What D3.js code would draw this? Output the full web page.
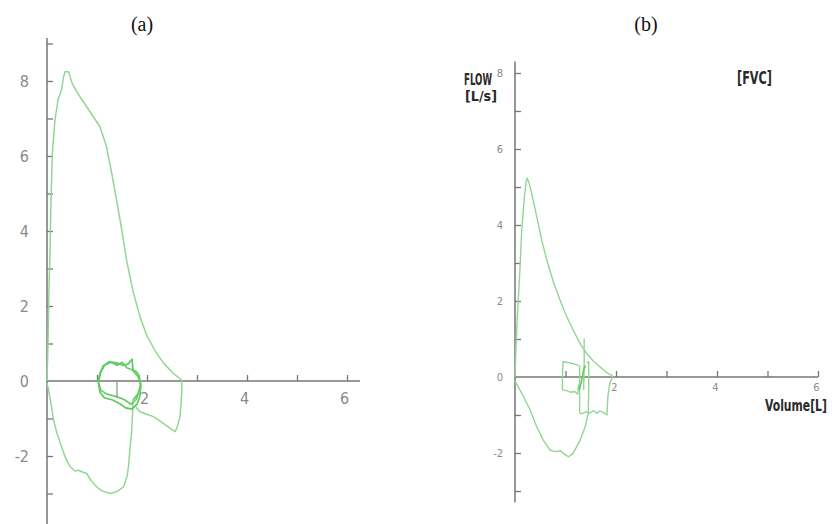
<!DOCTYPE html>
<html>
<head>
<meta charset="utf-8">
<script src="https://cdn.jsdelivr.net/npm/d3@7"></script>
<style>
  body { margin:0; background:#fff; }
  svg { display:block; }
</style>
</head>
<body>
<svg id="chart" width="832" height="524"></svg>
<script>
// panel (a) flow-volume loop
var aExpiration = [[0,0],[0.02,1],[0.04,2.5],[0.06,3.4],[0.08,4.8],[0.11,6.16],[0.16,6.96],[0.22,7.5],[0.29,7.76],[0.33,8.1],[0.36,8.25],[0.43,8.25],[0.5,7.95],[0.58,7.75],[0.66,7.58],[0.85,7.2],[1.06,6.78],[1.19,6.25],[1.3,5.5],[1.39,4.83],[1.5,4.0],[1.59,3.23],[1.72,2.4],[1.86,1.71],[2.0,1.2],[2.19,0.74],[2.35,0.45],[2.53,0.2],[2.69,0.03],[2.7,-0.2],[2.68,-0.6],[2.66,-0.95],[2.6,-1.25],[2.56,-1.35],[2.45,-1.25],[2.33,-1.13],[2.13,-0.95],[1.98,-0.88],[1.86,-0.82],[1.78,-0.7]];
var aInspiration = [[0,-0.05],[0.03,-0.24],[0.08,-0.6],[0.13,-1.04],[0.2,-1.4],[0.29,-1.75],[0.37,-2.05],[0.46,-2.28],[0.56,-2.4],[0.64,-2.38],[0.69,-2.42],[0.79,-2.46],[0.88,-2.65],[0.99,-2.82],[1.1,-2.93],[1.26,-3.0],[1.4,-2.95],[1.53,-2.82],[1.6,-2.55],[1.63,-2.28],[1.66,-1.8],[1.69,-1.39],[1.71,-0.9],[1.72,-0.5]];
var aTidal1 = [[1.72,-0.5],[1.82,-0.35],[1.87,-0.1],[1.84,0.15],[1.78,0.25],[1.72,0.3],[1.7,0.58],[1.62,0.45],[1.52,0.42],[1.4,0.48],[1.28,0.5],[1.15,0.42],[1.07,0.22],[1.03,-0.05],[1.06,-0.3],[1.15,-0.45],[1.3,-0.5],[1.45,-0.6],[1.58,-0.72],[1.7,-0.75],[1.8,-0.62],[1.86,-0.4]];
var aTidal2 = [[1.86,-0.4],[1.88,-0.1],[1.82,0.12],[1.7,0.3],[1.6,0.35],[1.5,0.5],[1.4,0.42],[1.25,0.52],[1.12,0.4],[1.06,0.22],[1.02,0],[1.08,-0.25],[1.2,-0.35],[1.4,-0.42],[1.55,-0.5],[1.68,-0.62],[1.78,-0.5],[1.84,-0.3]];
var aTidalStem = [[1.4,0],[1.4,-0.45]];

// panel (b) FVC loop
var bExpiration = [[0,0],[0.02,0.8],[0.05,1.7],[0.08,2.4],[0.1,2.9],[0.13,3.78],[0.18,4.66],[0.22,5.14],[0.24,5.23],[0.28,5.1],[0.33,4.83],[0.43,4.22],[0.53,3.6],[0.63,3.08],[0.76,2.5],[0.89,2.03],[1.02,1.6],[1.15,1.24],[1.28,0.9],[1.42,0.62],[1.55,0.42],[1.68,0.27],[1.8,0.13],[1.91,0.05],[1.93,0]];
var bCloseRight = [[1.93,0],[1.88,-0.15],[1.84,-0.5],[1.82,-1.0],[1.75,-0.93],[1.68,-0.9],[1.62,-0.95],[1.55,-0.88],[1.48,-0.95],[1.4,-0.92],[1.32,-0.97],[1.28,-0.95],[1.28,-0.5],[1.28,0.3]];
var bInspiration = [[0,-0.1],[0.08,-0.3],[0.17,-0.52],[0.3,-0.87],[0.43,-1.31],[0.56,-1.66],[0.69,-1.92],[0.76,-1.95],[0.83,-1.96],[0.9,-1.94],[0.96,-2.01],[1.06,-2.1],[1.15,-2.01],[1.29,-1.66],[1.39,-1.31],[1.45,-0.96],[1.46,-0.3],[1.46,0.4],[1.42,0.38]];
var bLeftBox = [[1.27,0.3],[1.15,0.35],[1.05,0.38],[0.95,0.4],[0.94,0],[0.94,-0.34],[1.02,-0.36],[1.1,-0.4],[1.18,-0.38],[1.24,-0.45],[1.26,-0.2]];
var bSpike = [[1.37,1.02],[1.37,0.4],[1.36,-0.34]];
var bTidal = [[1.27,-0.35],[1.32,-0.1],[1.36,0.2],[1.4,0.3]];

var aYTicks = [-3,-2,-1,0,1,2,3,4,5,6,7,8,9];
var aXTicks = [1,2,3,4,5,6];
var bYTicks = [-3,-2,-1,0,1,2,3,4,5,6,7,8];
var bXTicks = [1,2,3,4,5,6];

var svg = d3.select("#chart");
var axisColor = "#767676";
var curveColor = "#93d693";
var tidalColor = "#62cc62";

var xA = d3.scaleLinear().domain([0,6]).range([47,347]);
var yA = d3.scaleLinear().domain([0,8]).range([381,81]);
var xB = d3.scaleLinear().domain([0,6]).range([515,818]);
var yB = d3.scaleLinear().domain([0,8]).range([377,73]);

function evenLabel(d){ return (d % 2 == 0) ? d : ""; }

function drawAxes(x, y, yTicks, xTicks, yTop, yBottom, xEnd, fontSize, yPad, xPad, xDx, font){
  var g = svg.append("g");
  g.append("line").attr("x1",x(0)).attr("x2",x(0)).attr("y1",y(yTop)).attr("y2",y(yBottom))
    .style("stroke",axisColor).style("stroke-width",1.5);
  g.append("line").attr("x1",x(0)).attr("x2",x(xEnd)).attr("y1",y(0)).attr("y2",y(0))
    .style("stroke",axisColor).style("stroke-width",1.5);

  var ya = g.append("g").attr("transform","translate(" + x(0) + ",0)")
    .call(d3.axisLeft(y).tickValues(yTicks).tickSizeInner(-6).tickSizeOuter(0).tickPadding(yPad).tickFormat(evenLabel));
  var xa = g.append("g").attr("transform","translate(0," + y(0) + ")")
    .call(d3.axisBottom(x).tickValues(xTicks).tickSizeInner(-6).tickSizeOuter(0).tickPadding(xPad).tickFormat(evenLabel));
  [ya, xa].forEach(function(a){
    a.select(".domain").remove();
    a.selectAll("line").style("stroke",axisColor).style("stroke-width",1.3);
    a.selectAll("text").style("fill","#8a8a8a").style("font-family",font).style("font-size",fontSize + "px");
  });
  ya.selectAll(".tick").filter(function(d){ return d == 0; }).select("line").remove();
  xa.selectAll("text").attr("dx", xDx);
}

function drawCurve(x, y, data, color, width){
  var line = d3.line().x(function(d){ return x(d[0]); }).y(function(d){ return y(d[1]); }).curve(d3.curveLinear);
  svg.append("path").attr("d", line(data)).style("fill","none").style("stroke",color)
    .style("stroke-width",width).style("stroke-linejoin","round");
}

var narrow = "'Liberation Sans Narrow','DejaVu Sans Condensed','Roboto Condensed',sans-serif";
drawAxes(xA, yA, aYTicks, aXTicks, 9.15, -3.85, 6.26, 16, 18, 12, -3, narrow);
drawAxes(xB, yB, bYTicks, bXTicks, 8.3, -3.3, 6.0, 11, 12, 6, -2, narrow);

drawCurve(xA, yA, aExpiration, curveColor, 1.5);
drawCurve(xA, yA, aInspiration, curveColor, 1.5);
drawCurve(xA, yA, aTidal1, tidalColor, 1.8);
drawCurve(xA, yA, aTidal2, tidalColor, 1.6);
drawCurve(xA, yA, aTidalStem, "#7a9a7a", 1.2);

drawCurve(xB, yB, bExpiration, curveColor, 1.4);
drawCurve(xB, yB, bCloseRight, curveColor, 1.4);
drawCurve(xB, yB, bInspiration, curveColor, 1.4);
drawCurve(xB, yB, bLeftBox, curveColor, 1.4);
drawCurve(xB, yB, bSpike, curveColor, 1.4);
drawCurve(xB, yB, bTidal, tidalColor, 1.6);

// titles and labels
var serif = "'Liberation Serif','Times New Roman',serif";
svg.append("text").attr("x",142).attr("y",31).attr("text-anchor","middle")
  .style("font-family",serif).style("font-size","20px").style("fill","#111").text("(a)");
svg.append("text").attr("x",646).attr("y",31).attr("text-anchor","middle")
  .style("font-family",serif).style("font-size","20px").style("fill","#111").text("(b)");

// narrow japanese-style labels: squeeze horizontally with a transform
var cond = "'DejaVu Sans Condensed','Liberation Sans Narrow',sans-serif";
function label(x, y, len, size, txt){
  var t = svg.append("text").attr("x",0).attr("y",0)
    .style("font-family",cond).style("font-weight","bold").style("font-size",size + "px").style("fill","#2a2a2a").text(txt);
  var w = t.node().getComputedTextLength();
  t.attr("transform","translate(" + x + "," + y + ") scale(" + (len / w) + ",1)");
}
label(464, 85, 28, 16, "FLOW");
label(465, 101, 32, 14, "[L/s]");
label(737, 84, 35, 18, "[FVC]");
label(765, 411, 62, 15, "Volume[L]");
</script>
</body>
</html>
